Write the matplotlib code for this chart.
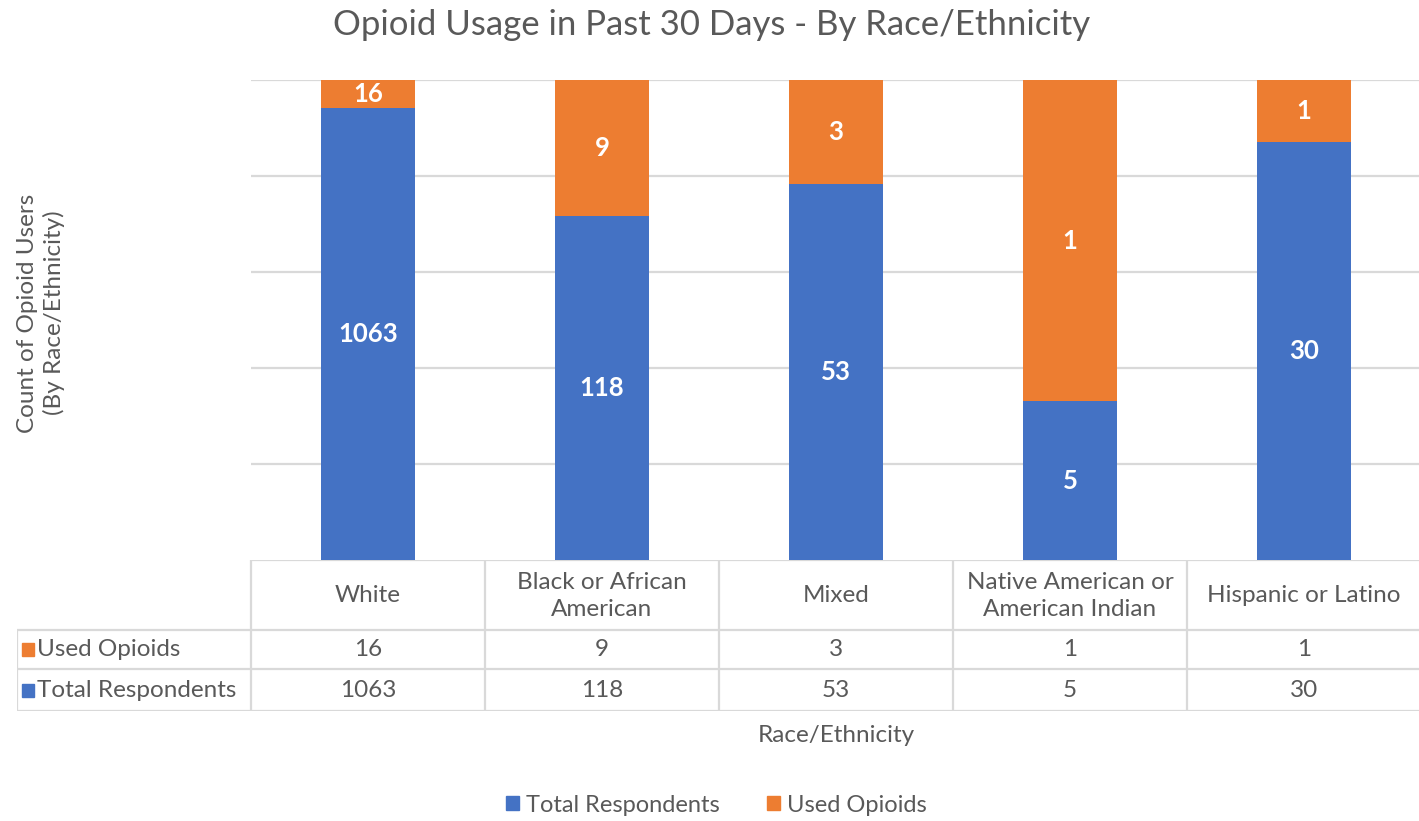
import numpy as np
import matplotlib
matplotlib.use('Agg')
import matplotlib.pyplot as plt
from matplotlib.patches import Rectangle

plt.rcParams['font.family'] = ['Lato', 'DejaVu Sans']

# data
categories = ['White', 'Black or African\nAmerican', 'Mixed',
              'Native American or\nAmerican Indian', 'Hispanic or Latino']
used_opioids = [16, 9, 3, 1, 1]
total_respondents = [1063, 118, 53, 5, 30]
# stacked shares (%) as drawn in the chart
total_share = [94.1, 71.7, 78.3, 33.1, 87.1]
used_share = [5.9, 28.3, 21.7, 66.9, 12.9]

BLUE = '#4472C4'
ORANGE = '#ED7D31'
GRID = '#D9D9D9'
TXT = '#595959'

W, H = 1419, 821
fig = plt.figure(figsize=(W/100, H/100), dpi=100)

def fbox(x0, y0, x1, y1):
    # pixel box (top-left origin) -> figure fraction rect
    return [x0/W, 1 - y1/H, (x1-x0)/W, (y1-y0)/H]

ax = fig.add_axes(fbox(251, 80, 1421, 560))
x = np.arange(len(categories))
ax.bar(x, total_share, width=0.4, color=BLUE, zorder=3)
ax.bar(x, used_share, width=0.4, bottom=total_share, color=ORANGE, zorder=3)
for i in range(len(x)):
    ax.text(x[i], total_share[i]/2, str(total_respondents[i]), ha='center', va='center',
            color='white', fontsize=18.5, fontweight='bold', zorder=4)
    ax.text(x[i], total_share[i] + used_share[i]/2, str(used_opioids[i]), ha='center', va='center',
            color='white', fontsize=18.5, fontweight='bold', zorder=4)
ax.set_xlim(-0.5, len(x)-0.5)
ax.set_ylim(0, 100)
ax.set_yticks([20, 40, 60, 80, 100])
ax.yaxis.grid(True, color=GRID, lw=1.6, zorder=0)
ax.tick_params(left=False, bottom=False, labelleft=False, labelbottom=False)
for s in ax.spines.values():
    s.set_visible(False)

# data table below the plot
tab = fig.add_axes(fbox(17, 560, 1421, 711))
tab.set_xlim(-1.5, len(x)-0.5)
tab.set_ylim(151, 0)
tab.axis('off')
rows = [0, 70, 109, 151]
lk = dict(color=GRID, lw=1.6, solid_capstyle='butt')
tab.plot([-0.5, len(x)-0.5], [rows[0], rows[0]], **lk)
for r in rows[1:]:
    tab.plot([-1.5, len(x)-0.5], [r, r], **lk)
for xv in np.arange(-0.5, len(x), 1.0):
    tab.plot([xv, xv], [rows[0], rows[3]], **lk)
tab.plot([-1.5, -1.5], [rows[1], rows[3]], **lk)
for i, c in enumerate(categories):
    tab.text(x[i], (rows[0]+rows[1])/2 + 1, c, ha='center', va='center', color=TXT,
             fontsize=17.5, linespacing=1.3)
    tab.text(x[i], (rows[1]+rows[2])/2, str(used_opioids[i]), ha='center', va='center', color=TXT, fontsize=17.5)
    tab.text(x[i], (rows[2]+rows[3])/2, str(total_respondents[i]), ha='center', va='center', color=TXT, fontsize=17.5)
for (r0, r1), name, col in [((rows[1], rows[2]), 'Used Opioids', ORANGE),
                            ((rows[2], rows[3]), 'Total Respondents', BLUE)]:
    yc = (r0 + r1)/2
    tab.add_patch(Rectangle((-1.478, yc-6.5), 0.05, 13, color=col, clip_on=False))
    tab.text(-1.415, yc, name, ha='left', va='center', color=TXT, fontsize=17.5)

fig.text(836/W, 1 - 735/H, 'Race/Ethnicity', ha='center', va='center', color=TXT, fontsize=17.5)
fig.text(41/W, 1 - 313/H, 'Count of Opioid Users\n(By Race/Ethnicity)', ha='center', va='center',
         rotation=90, color=TXT, fontsize=17.5, linespacing=1.3)
fig.text(712/W, 1 - 25/H, 'Opioid Usage in Past 30 Days - By Race/Ethnicity', ha='center', va='center',
         color=TXT, fontsize=25)

handles = [Rectangle((0, 0), 1, 1, color=BLUE), Rectangle((0, 0), 1, 1, color=ORANGE)]
fig.legend(handles, ['Total Respondents', 'Used Opioids'], loc='center', bbox_to_anchor=(716/W, 1 - 805/H),
           ncol=2, frameon=False, fontsize=17, handlelength=0.55, handleheight=0.55,
           handletextpad=0.3, columnspacing=2.0, labelcolor=TXT)

fig.savefig('out.png', dpi=100)
